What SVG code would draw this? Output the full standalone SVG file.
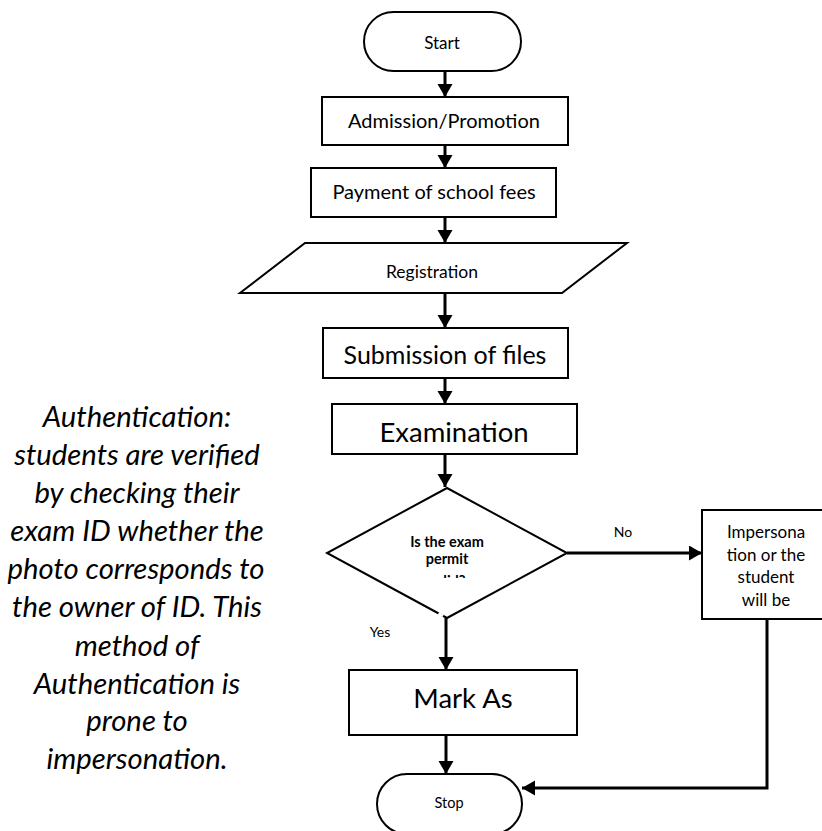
<svg xmlns="http://www.w3.org/2000/svg" width="822" height="831" viewBox="0 0 822 831">
<style>
.shape{fill:#fff;stroke:#000;stroke-width:2}
.conn{fill:none;stroke:#000;stroke-width:3}
text{font-family:Lato,"Liberation Sans",sans-serif;fill:#000;text-anchor:middle}
.note{font-style:italic;font-size:29.3px}
.bold{font-weight:bold}
</style>
<defs>
<marker id="arr" markerUnits="userSpaceOnUse" markerWidth="14" markerHeight="16" refX="13" refY="7.5" orient="auto">
<path d="M0,0 L13,7.5 L0,15 z" fill="#000"/>
</marker>
<clipPath id="dclip"><rect x="400" y="530" width="100" height="48"/></clipPath>
</defs>
<rect width="822" height="831" fill="#fff"/>

<g id="note">
<text class="note" x="137" y="427">Authentication:</text>
<text class="note" x="137" y="465">students are verified</text>
<text class="note" x="137" y="503">by checking their</text>
<text class="note" x="137" y="541">exam ID whether the</text>
<text class="note" x="136" y="579">photo corresponds to</text>
<text class="note" x="137" y="617">the owner of ID. This</text>
<text class="note" x="137" y="656">method of</text>
<text class="note" x="137" y="694">Authentication is</text>
<text class="note" x="137" y="731">prone to</text>
<text class="note" x="137" y="769">impersonation.</text>
</g>

<g id="connectors">
<line class="conn" x1="445" y1="71" x2="445" y2="97" marker-end="url(#arr)"/>
<line class="conn" x1="445" y1="145" x2="445" y2="168" marker-end="url(#arr)"/>
<line class="conn" x1="445" y1="217" x2="445" y2="243" marker-end="url(#arr)"/>
<line class="conn" x1="445" y1="293" x2="445" y2="328" marker-end="url(#arr)"/>
<line class="conn" x1="445" y1="378" x2="445" y2="404" marker-end="url(#arr)"/>
<line class="conn" x1="445" y1="454" x2="445" y2="487" marker-end="url(#arr)"/>
<line class="conn" x1="567" y1="553" x2="702" y2="553" marker-end="url(#arr)"/>
<line class="conn" x1="446" y1="618" x2="446" y2="670" marker-end="url(#arr)"/>
<line class="conn" x1="446" y1="735" x2="446" y2="774" marker-end="url(#arr)"/>
<polyline class="conn" points="767,619 767,788 522,788" marker-end="url(#arr)"/>
<text x="623" y="537" font-size="14">No</text>
<text x="380" y="637" font-size="14">Yes</text>
</g>

<g id="start">
<rect class="shape" x="364" y="12" width="157" height="59" rx="29.5"/>
<text x="442" y="49" font-size="17">Start</text>
</g>

<g id="admission">
<rect class="shape" x="322" y="97" width="246" height="48"/>
<text x="444" y="128" font-size="20">Admission/Promotion</text>
</g>

<g id="payment">
<rect class="shape" x="311" y="168" width="245" height="49"/>
<text x="434" y="199" font-size="20">Payment of school fees</text>
</g>

<g id="registration">
<polygon class="shape" points="305,243 627,243 562,293 240,293"/>
<text x="432" y="278" font-size="17.5">Registration</text>
</g>

<g id="submission">
<rect class="shape" x="323" y="328" width="245" height="50"/>
<text x="445" y="364" font-size="25">Submission of files</text>
</g>

<g id="examination">
<rect class="shape" x="332" y="404" width="245" height="50"/>
<text x="454" y="442" font-size="27.5">Examination</text>
</g>

<g id="decision">
<polygon class="shape" points="447,488 567,553 447,618 327,553"/>
<line x1="438.5" y1="613.4" x2="443" y2="616" stroke="#fff" stroke-width="3"/>
<text class="bold" x="447" y="547" font-size="14.5">Is the exam</text>
<text class="bold" x="447" y="564" font-size="14.5">permit</text>
<text class="bold" x="447" y="586" font-size="14.5" clip-path="url(#dclip)">valid?</text>
</g>

<g id="impersonation">
<rect class="shape" x="702" y="510" width="130" height="109"/>
<text x="766" y="538" font-size="17">Impersona</text>
<text x="766" y="561" font-size="17">tion or the</text>
<text x="766" y="583" font-size="17">student</text>
<text x="766" y="606" font-size="17">will be</text>
</g>

<g id="mark">
<rect class="shape" x="349" y="670" width="228" height="65"/>
<text x="463" y="708" font-size="27.5">Mark As</text>
</g>

<g id="stop">
<rect class="shape" x="377" y="774" width="145" height="60" rx="30"/>
<text x="449" y="808" font-size="14.5">Stop</text>
</g>
</svg>
